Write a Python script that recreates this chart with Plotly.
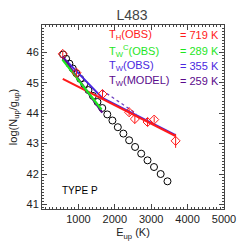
import plotly.graph_objects as go

# Observed CO ladder (red diamonds)
eup_obs = [570, 947, 1662, 2394, 2551, 2900, 3082, 3671]
logn_obs = [45.95, 45.33, 44.63, 44.03, 43.81, 43.71, 43.79, 43.09]
err_obs = [0.08, 0.08, 0.12, 0.11, 0.15, 0.14, 0.10, 0.23]

# Model (black open circles)
eup_model = [580, 663, 752, 846, 945, 1050, 1160, 1276, 1397, 1524, 1656,
             1793, 1935, 2083, 2236, 2394, 2557, 2725, 2899, 3077, 3260, 3447]
logn_model = [45.93, 45.79, 45.63, 45.47, 45.31, 45.13, 44.95, 44.76, 44.57, 44.37, 44.17,
              43.96, 43.76, 43.54, 43.33, 43.11, 42.89, 42.67, 42.45, 42.23, 42.00, 41.76]

# Fit lines (end points)
hot_x = [570, 3670]
hot_y = [45.13, 43.25]
warm_obs_x = [560, 1656, 1656, 3670]
warm_obs_y = [45.86, 44.51, 44.50, 43.28]
warmc_x = [561, 1635]
warmc_y = [45.76, 44.12]
model_x = [560, 1656]
model_y = [45.86, 44.02]
model_dot_x = [1640, 2600]
model_dot_y = [44.76, 43.98]

x_ticks = [1000, 2000, 3000, 4000, 5000]
y_ticks = [41, 42, 43, 44, 45, 46]

RED = "#ff1a1a"
GREEN = "#1ee61e"
BLUE = "#4a28e0"
PURPLE = "#5a0a8c"
FONT = "Liberation Sans"

L, R, T, B = 42.3, 224.0, 25.0, 212.0

fig = go.Figure()

fig.add_trace(go.Scatter(x=eup_model, y=logn_model, mode="markers",
                         marker=dict(symbol="circle-open", size=7, color="black",
                                     line=dict(width=1, color="black"))))
fig.add_trace(go.Scatter(x=warm_obs_x, y=warm_obs_y, mode="lines",
                         line=dict(color=BLUE, width=2)))
fig.add_trace(go.Scatter(x=hot_x, y=hot_y, mode="lines",
                         line=dict(color=RED, width=2)))
fig.add_trace(go.Scatter(x=model_dot_x, y=model_dot_y, mode="lines",
                         line=dict(color="#7040c0", width=1.3, dash="dot")))
fig.add_trace(go.Scatter(x=model_x, y=model_y, mode="lines",
                         line=dict(color=PURPLE, width=2.2)))
fig.add_trace(go.Scatter(x=warmc_x, y=warmc_y, mode="lines",
                         line=dict(color=GREEN, width=2.2)))
fig.add_trace(go.Scatter(x=eup_obs, y=logn_obs, mode="markers",
                         marker=dict(symbol="diamond-open", size=7, color=RED,
                                     line=dict(width=1, color=RED)),
                         error_y=dict(type="data", array=err_obs, color=RED,
                                      thickness=1, width=0)))


def label(xpx, ypx, text, color, anchor, size=11):
    fig.add_annotation(x=(xpx - L) / (R - L), y=(B - ypx) / (B - T), xref="paper",
                       yref="paper", text=text, showarrow=False,
                       xanchor=anchor, yanchor="middle",
                       font=dict(family=FONT, size=size, color=color))


rows = [
    ("T<sub>H</sub>(OBS)", "= 719 K", RED),
    ("T<sub>W</sub><sup>C</sup>(OBS)", "= 289 K", GREEN),
    ("T<sub>W</sub>(OBS)", "= 355 K", BLUE),
    ("T<sub>W</sub>(MODEL)", "= 259 K", PURPLE),
]
ys_px = [35, 51, 67, 82]
for (lt, rt, c), ypx in zip(rows, ys_px):
    label(107, ypx, lt, c, "left")
    label(221, ypx, rt, c, "right")

label(60, 193, "TYPE P", "black", "left", size=10)

axis_common = dict(showgrid=False, zeroline=False, showline=True, linecolor="#444",
                   linewidth=1, mirror="allticks", ticks="inside", ticklen=5,
                   tickcolor="#444", tickfont=dict(family=FONT, size=11, color="#222"))

fig.update_layout(
    width=249, height=249,
    margin=dict(l=42, r=25, t=25, b=37),
    paper_bgcolor="white", plot_bgcolor="white",
    showlegend=False,
    title=dict(text="L483", x=0.53, xanchor="center", y=0.94, yanchor="middle",
               font=dict(family=FONT, size=14, color="#444")),
    xaxis=dict(range=[0, 5000], tickvals=x_ticks,
               ticktext=[str(v) for v in x_ticks],
               minor=dict(dtick=100, tick0=0, ticklen=2, ticks="inside", tickcolor="#444"),
               title=dict(text="E<sub>up</sub> (K)", standoff=4,
                          font=dict(family=FONT, size=11, color="#222")),
               **axis_common),
    yaxis=dict(range=[40.85, 46.9], tickvals=y_ticks,
               ticktext=[str(v) for v in y_ticks],
               minor=dict(dtick=0.1, tick0=41, ticklen=2, ticks="inside", tickcolor="#444"),
               title=dict(text="log(N<sub>up</sub>/g<sub>up</sub>)", standoff=6,
                          font=dict(family=FONT, size=11, color="#222")),
               **axis_common),
)

fig.write_html("out.html", config={"displayModeBar": False},
               post_script="document.body.style.margin='0px';")
